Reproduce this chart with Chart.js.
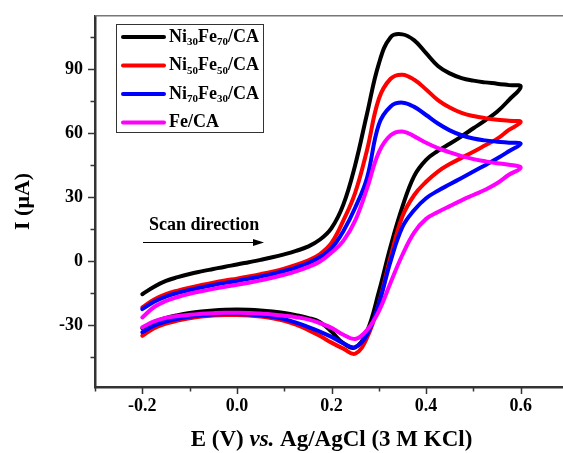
<!DOCTYPE html>
<html><head><meta charset="utf-8">
<script src="https://cdn.jsdelivr.net/npm/chart.js@4/dist/chart.umd.min.js"></script>
<style>html,body{margin:0;padding:0;overflow:hidden;background:#fff}#wrap{width:580px;height:453px;position:relative}</style>
</head><body><div id="wrap"><canvas id="c"></canvas></div>
<script>
// ---- data (potential in V, current in µA) ----
const eForward = [-0.2,-0.175,-0.15,-0.125,-0.1,-0.075,-0.05,-0.025,0,0.025,0.05,0.075,0.1,0.125,0.15,0.175,0.2,0.225,0.25,0.275,0.3,0.325,0.35,0.375,0.4,0.425,0.45,0.475,0.5,0.525,0.55,0.575,0.6];
const eReverse = [0.575,0.55,0.525,0.5,0.475,0.45,0.425,0.4,0.375,0.35,0.325,0.3,0.275,0.25,0.225,0.2,0.175,0.15,0.125,0.1,0.075,0.05,0.025,0,-0.025,-0.05,-0.075,-0.1,-0.125,-0.15,-0.175,-0.2];

const iNi30Fe70Fwd = [-15.5,-12,-9.3,-7.5,-6,-4.8,-3.7,-2.6,-1.6,-0.5,0.6,1.8,3.2,4.8,6.8,10,15.5,26.5,45,69,92.5,105,106.3,103.5,97.5,91.5,88,85.8,84.6,83.8,83.2,82.5,81.8];
const iNi30Fe70Rev = [75.5,70,66,62.3,58.5,55,51.7,47.5,40,25.5,7,-14.5,-33,-40.5,-38.5,-33,-28.5,-26.6,-25.3,-24.3,-23.6,-23.1,-22.8,-22.7,-22.8,-23.1,-23.6,-24.3,-25.3,-26.6,-28.5,-31.5];

const iNi50Fe50Fwd = [-21.7,-18,-15.5,-13.8,-12.4,-11.2,-10.1,-9.1,-8.2,-7.2,-6.1,-4.9,-3.5,-1.8,0.3,3.2,8.5,19,32,52,76,85.5,87.4,85,80.5,75.5,72,69.5,68,67,66.3,65.8,65.2];
const iNi50Fe50Rev = [61.5,57.3,54.3,51.3,48.4,45.5,42,37.2,31,21,2,-20,-36,-43.4,-41,-38.2,-35,-32.2,-29.8,-28,-26.8,-26,-25.5,-25.3,-25.3,-25.5,-26,-26.8,-27.9,-29.3,-31.5,-35];

const iNi70Fe30Fwd = [-22.5,-19,-16.6,-14.9,-13.5,-12.3,-11.2,-10.2,-9.3,-8.3,-7.2,-6,-4.6,-3,-1,1.8,6,14,25,39,64,72.5,74.3,72.3,68.5,64.5,61.3,59,57.5,56.6,56,55.5,55];
const iNi70Fe30Rev = [51.5,48.1,45,42,39,36,33,29.5,24,16,0,-20,-34.5,-40.3,-38.5,-35.5,-33,-30.8,-28.8,-27.2,-26.1,-25.4,-25,-24.8,-24.8,-25,-25.4,-26.1,-27,-28.3,-30.3,-33.3];

const iFeFwd = [-26.4,-21.5,-18.7,-16.8,-15.3,-14.1,-13,-12,-11.1,-10.1,-9,-7.8,-6.4,-4.8,-2.8,-0.3,4,9.5,19,34,51,59,60.8,58.5,55.5,53,51,49.2,47.8,46.8,45.9,45.2,43.8];
const iFeRev = [40.5,36.5,33.5,31,28.5,25.8,23,19.8,13.5,3,-10,-23.5,-32.3,-36.5,-34.5,-31.3,-29,-27.3,-26.3,-25.6,-25,-24.6,-24.3,-24.2,-24.2,-24.4,-24.7,-25.1,-25.7,-26.6,-28.2,-31];

const seriesLabels = ['Ni_{30}Fe_{70}/CA','Ni_{50}Fe_{50}/CA','Ni_{70}Fe_{30}/CA','Fe/CA'];
const xTickValues = [-0.3,-0.2,-0.1,0,0.1,0.2,0.3,0.4,0.5,0.6,0.7];
const xTickLabels = ['','-0.2','','0.0','','0.2','','0.4','','0.6',''];
const yTickValues = [-45,-30,-15,0,15,30,45,60,75,90,105];
const yTickLabels = ['','-30','','0','','30','','60','','90',''];
const xTitleParts = ['E (V) ','vs.',' Ag/AgCl (3 M KCl)'];
const yTitle = 'I (\u03bcA)';
const annotationText = 'Scan direction';

// ---- chart ----
const FONT = '"Liberation Serif","Times New Roman",serif';
const colors = ['#000000','#ff0000','#0000ff','#ff00ff'];
function loop(fwd, rev){
  const pts = eForward.map((e,i)=>({x:e,y:fwd[i]}));
  return pts.concat(eReverse.map((e,i)=>({x:e,y:rev[i]})));
}
const allSeries = [
  [iNi30Fe70Fwd,iNi30Fe70Rev],[iNi50Fe50Fwd,iNi50Fe50Rev],
  [iNi70Fe30Fwd,iNi70Fe30Rev],[iFeFwd,iFeRev]
];
const datasets = allSeries.map((s,k)=>({
  label: seriesLabels[k],
  data: loop(s[0],s[1]),
  showLine: true, borderColor: colors[k], backgroundColor: colors[k],
  borderWidth: 4, pointRadius: 0, tension: 0.4,
  borderCapStyle:'round', borderJoinStyle:'round',
  order: 3-k
}));

function drawRich(ctx, x, y, text, size, subSize){
  const parts = text.split(/(_\{[^}]*\})/);
  for (const p of parts){
    if (!p) continue;
    if (p.startsWith('_{')){
      const t = p.slice(2,-1);
      ctx.font = `bold ${subSize}px ${FONT}`;
      ctx.fillText(t, x, y + subSize*0.5);
      x += ctx.measureText(t).width;
    } else {
      ctx.font = `bold ${size}px ${FONT}`;
      ctx.fillText(p, x, y);
      x += ctx.measureText(p).width;
    }
  }
}

const decor = {
  id:'decor',
  afterDraw(chart){
    const ctx = chart.ctx, a = chart.chartArea;
    const xs = chart.scales.x, ys = chart.scales.y;
    ctx.save();
    ctx.strokeStyle = '#777'; ctx.lineWidth = 1.5;
    ctx.beginPath(); ctx.moveTo(a.left, a.top); ctx.lineTo(a.right+5, a.top); ctx.stroke();
    ctx.strokeStyle = '#333'; ctx.lineWidth = 1.5;
    xTickValues.forEach((v,i)=>{
      const px = Math.round(xs.getPixelForValue(v))+0.5;
      const len = xTickLabels[i] ? 7 : 4.5;
      ctx.beginPath(); ctx.moveTo(px, a.bottom); ctx.lineTo(px, a.bottom+len); ctx.stroke();
    });
    yTickValues.forEach((v,i)=>{
      const py = Math.round(ys.getPixelForValue(v))+0.5;
      const len = yTickLabels[i] ? 7 : 4.5;
      ctx.beginPath(); ctx.moveTo(a.left, py); ctx.lineTo(a.left-len, py); ctx.stroke();
    });
    // legend
    const lx = 116, ly = 24, lw = 147, lh = 108;
    ctx.strokeStyle = '#333'; ctx.lineWidth = 1;
    ctx.strokeRect(lx+0.5, ly+0.5, lw, lh);
    ctx.fillStyle = '#000'; ctx.textBaseline = 'middle'; ctx.textAlign = 'left';
    seriesLabels.forEach((lab,k)=>{
      const yy = ly + 13 + k*28.5;
      ctx.strokeStyle = colors[k]; ctx.lineWidth = 4; ctx.lineCap = 'round';
      ctx.beginPath(); ctx.moveTo(lx+7, yy); ctx.lineTo(lx+48, yy); ctx.stroke();
      ctx.fillStyle = '#000';
      drawRich(ctx, lx+53, yy, lab, 18, 11);
    });
    // scan direction
    ctx.font = `bold 18px ${FONT}`; ctx.fillStyle='#000'; ctx.textBaseline='middle';
    ctx.fillText(annotationText, 149, 225);
    ctx.strokeStyle = '#000'; ctx.lineWidth = 1; ctx.lineCap='butt';
    ctx.beginPath(); ctx.moveTo(143, 242.5); ctx.lineTo(255, 242.5); ctx.stroke();
    ctx.beginPath(); ctx.moveTo(264, 242.5); ctx.lineTo(253, 239); ctx.lineTo(253, 246); ctx.closePath(); ctx.fill();
    // x title with italic vs.
    const fonts = [`bold 23px ${FONT}`, `italic bold 23px ${FONT}`, `bold 23px ${FONT}`];
    let total = 0;
    xTitleParts.forEach((t,i)=>{ ctx.font = fonts[i]; total += ctx.measureText(t).width; });
    let x0 = (a.left + a.right)/2 - total/2;
    ctx.textBaseline = 'middle';
    xTitleParts.forEach((t,i)=>{ ctx.font = fonts[i]; ctx.fillText(t, x0, 440); x0 += ctx.measureText(t).width; });
    ctx.restore();
  }
};

new Chart(document.getElementById('c'), {
  type: 'scatter',
  data: { datasets },
  options: {
    responsive: true, maintainAspectRatio: false, animation: false,
    layout: { padding: { top: 12, right: 12, left: 0, bottom: 0 } },
    plugins: { legend: { display: false }, tooltip: { enabled: false } },
    scales: {
      x: {
        type: 'linear', min: -0.3, max: 0.7,
        afterBuildTicks: s => { s.ticks = xTickValues.map(v=>({value:v})); },
        afterFit: s => { s.height = 66; },
        ticks: { autoSkip: false, maxRotation: 0, padding: 2, color: '#000',
          font: { family: FONT, size: 18, weight: 'bold' },
          callback: (v, i) => xTickLabels[i] },
        grid: { display: true, drawOnChartArea: false, drawTicks: true, tickLength: 7, color: 'rgba(0,0,0,0)' },
        border: { display: true, color: '#333', width: 2.5 }
      },
      y: {
        type: 'linear', min: -59, max: 115,
        afterBuildTicks: s => { s.ticks = yTickValues.map(v=>({value:v})); },
        afterFit: s => { s.width = 95; },
        ticks: { autoSkip: false, padding: 5, color: '#000',
          font: { family: FONT, size: 18, weight: 'bold' },
          callback: (v, i) => yTickLabels[i] },
        grid: { display: true, drawOnChartArea: false, drawTicks: true, tickLength: 7, color: 'rgba(0,0,0,0)' },
        border: { display: true, color: '#333', width: 2.5 },
        title: { display: true, text: yTitle, color: '#000', padding: { top: 10, bottom: 0 },
          font: { family: FONT, size: 22, weight: 'bold' } }
      }
    }
  },
  plugins: [decor]
});
</script></body></html>
